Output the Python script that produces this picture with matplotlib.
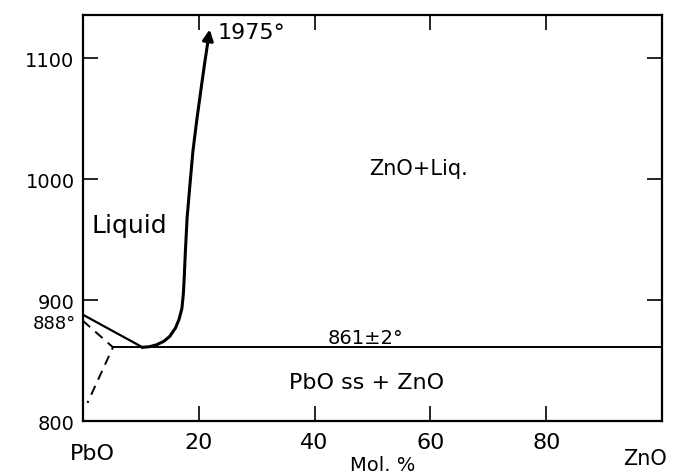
import matplotlib.pyplot as plt

# PbO - ZnO phase diagram
liq_pbo_x = [0, 10.3]
liq_pbo_t = [888, 861]

liq_zno_x = [10.3, 11.5, 12.7, 14.0, 15.0, 16.0, 16.6, 17.1, 17.35,
             17.5, 17.7, 18.0, 18.5, 19.0, 19.7, 20.5, 21.0]
liq_zno_t = [861, 861.5, 863, 866, 870, 877, 884, 893, 905,
             918, 940, 968, 996, 1023, 1050, 1078, 1095]
arrow_tip = (21.9, 1124)

eutectic_x = [5.3, 100]
eutectic_t = [861, 861]

ss_x = [0, 5.2, 0.8]
ss_t = [883, 861, 815]

x_ticks = [20, 40, 60, 80]
y_ticks = [800, 900, 1000, 1100]

fig = plt.figure(figsize=(6.79, 4.77), dpi=100)
ax = fig.add_axes([0.122, 0.1153, 0.853, 0.8512])

ax.plot(liq_pbo_x, liq_pbo_t, color='black', linewidth=1.6)
ax.plot(liq_zno_x, liq_zno_t, color='black', linewidth=2.2,
        solid_joinstyle='round')
ax.annotate('', xy=arrow_tip, xytext=(liq_zno_x[-1], liq_zno_t[-1]),
            arrowprops=dict(arrowstyle='-|>', color='black', lw=2.2,
                            mutation_scale=16, shrinkA=0, shrinkB=0))
ax.plot(eutectic_x, eutectic_t, color='black', linewidth=1.4)
ax.plot(ss_x, ss_t, color='black', linewidth=1.4, linestyle=(0, (5, 3.5)))

ax.set_xlim(0, 100)
ax.set_ylim(800, 1136)
ax.set_xticks(x_ticks)
ax.set_yticks(y_ticks)
ax.set_xticklabels([str(v) for v in x_ticks], fontsize=16)
ax.set_yticklabels([str(v) for v in y_ticks], fontsize=14)
ax.tick_params(direction='in', length=11, width=1.2, top=True, right=True)
ax.tick_params(axis='x', pad=8)
ax.tick_params(axis='y', pad=6)
for s in ax.spines.values():
    s.set_linewidth(1.6)

ax.text(-1.1, 881, '888°', fontsize=13, ha='right', va='center', clip_on=False)
ax.text(1.5, 962, 'Liquid', fontsize=18, ha='left', va='center')
ax.text(58, 1009, 'ZnO+Liq.', fontsize=15, ha='center', va='center')
ax.text(23.3, 1122, '1975°', fontsize=16, ha='left', va='center')
ax.text(48.8, 869, '861±2°', fontsize=14, ha='center', va='center')
ax.text(49, 832, 'PbO ss + ZnO', fontsize=16, ha='center', va='center')

ax.text(1.7, -0.078, 'PbO', fontsize=16, ha='center', va='center',
        transform=ax.get_xaxis_transform())
ax.text(97.0, -0.09, 'ZnO', fontsize=15, ha='center', va='center',
        transform=ax.get_xaxis_transform())
ax.text(51.7, -0.108, 'Mol. %', fontsize=14, ha='center', va='center',
        transform=ax.get_xaxis_transform())

fig.savefig('out.png', dpi=100)
